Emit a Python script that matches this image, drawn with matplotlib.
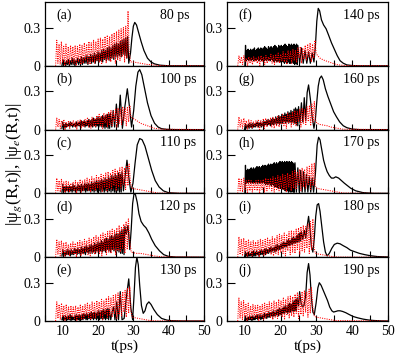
import numpy as np
import matplotlib
matplotlib.use("Agg")
import matplotlib.pyplot as plt
from matplotlib.ticker import MultipleLocator

plt.rcParams["font.family"] = "Liberation Serif"
plt.rcParams["mathtext.fontset"] = "stix"
plt.rcParams["font.size"] = 9

# values in units of 0.01; dense oscillating parts are (lo, hi) pairs over a t range
panel_tags = ["(a)", "(b)", "(c)", "(d)", "(e)", "(f)", "(g)", "(h)", "(i)", "(j)"]
panel_times = ["80 ps", "100 ps", "110 ps", "120 ps", "130 ps",
               "140 ps", "160 ps", "170 ps", "180 ps", "190 ps"]

red_lo = [0, 2, 1, 3, 0, 2, 1, 3, 2, 0, 3, 1, 2, 4, 2, 1, 3, 2, 4, 3, 1, 5, 2, 4, 3, 6, 2, 5, 4, 7, 3, 6]

# (a) 80 ps
a_bk_band = (9.8, 28.4)
a_bk_hi = [5, 3, 4, 5, 4, 6, 5, 4, 6, 5, 7, 6, 7, 8, 7, 9, 8, 10, 9, 11, 10, 12, 13, 12, 14, 15, 14, 16, 17, 18, 17, 19, 20, 21, 22, 23]
a_bk_lo = [0, 1, 0, 1, 0, 1, 1, 0, 2, 1, 2, 1, 2, 2, 1, 3, 2, 3, 2, 4, 3, 4, 3, 5, 4, 5, 4, 6, 5, 7, 6, 8, 7, 9, 8, 6]
a_bk_t = [28.7, 29.2, 29.6, 30.0, 30.4, 30.9, 31.5, 32.2, 33.0, 34.0, 35.0, 36.0, 37.5, 40, 45, 50]
a_bk_y = [2, 10, 22, 31, 34, 32, 26, 19, 12, 6, 3, 1.5, 0.5, 0, 0, 0]
a_rd_band = (8.0, 28.5)
a_rd_hi = [20, 17, 19, 16, 17, 15, 16, 15, 16, 15, 17, 16, 18, 17, 19, 18, 20, 19, 21, 22, 21, 23, 24, 23, 25, 26, 27, 28, 29, 30, 31, 43]
a_rd_t = [28.8, 29.2, 30, 31, 32, 33, 34, 35, 36, 37.5, 40, 50]
a_rd_y = [12, 3, 3, 2.5, 2, 1.5, 1, 1, 0.5, 0.2, 0, 0]

# (b) 100 ps
b_bk_band = (9.8, 23.5)
b_bk_hi = [6, 4, 5, 4, 5, 6, 5, 4, 5, 6, 5, 6, 7, 6, 7, 6, 7, 8, 7, 8, 9, 8, 9, 10, 9, 10, 11, 10, 11, 12, 12, 13]
b_bk_lo = [1, 2, 1, 2, 3, 2, 3, 2, 3, 2, 3, 3, 2, 3, 3, 2, 3, 3, 2, 3, 2, 3, 2, 3, 2, 3, 2, 2, 1, 2, 1, 1]
b_bk_t = [23.9, 24.3, 24.7, 25.2, 25.7, 26.3, 26.9, 27.6, 28.3, 28.9, 29.5, 30.1, 30.7, 31.3, 31.8, 32.4, 33.2, 34.0, 35.0, 36.0, 37.0, 38.0, 39.5, 42, 50]
b_bk_y = [2, 15, 2, 20, 2, 27, 1, 18, 32, 18, 2, 15, 34, 45, 47, 43, 32, 21, 11, 5, 2, 0.7, 0.2, 0, 0]
b_rd_band = (8.0, 29.0)
b_rd_hi = [9, 8, 7, 8, 6, 7, 6, 7, 6, 7, 8, 7, 8, 9, 8, 10, 9, 11, 12, 11, 13, 12, 14, 15, 14, 16, 17, 16, 18, 17, 18, 19]
b_rd_t = [29.3, 29.8, 31, 32, 33, 34, 35, 36, 38, 50]
b_rd_y = [10, 9, 7, 5, 4, 3, 2, 1, 0.3, 0]

# (c) 110 ps
c_bk_band = (9.8, 26.8)
c_bk_hi = [7, 5, 6, 5, 6, 5, 7, 6, 5, 7, 6, 7, 6, 8, 7, 8, 7, 9, 8, 9, 10, 9, 10, 11, 10, 12, 11, 13, 12, 14, 13, 15, 14, 16, 15, 17]
c_bk_lo = [1, 2, 1, 2, 1, 2, 1, 2, 1, 2, 2, 1, 2, 2, 1, 2, 2, 1, 2, 1, 2, 1, 2, 1, 2, 1, 2, 1, 2, 1, 2, 1, 1, 2, 1, 1]
c_bk_t = [27.2, 27.7, 28.2, 28.7, 29.3, 29.9, 30.5, 31.1, 31.8, 32.5, 33.3, 34.2, 35.2, 36.2, 37.3, 38.5, 40, 43, 50]
c_bk_y = [2, 14, 26, 13, 1, 8, 24, 38, 43, 42, 37, 28, 18, 10, 5, 2, 0.5, 0, 0]
c_rd_band = (8.0, 28.8)
c_rd_hi = [12, 10, 11, 9, 10, 9, 8, 9, 10, 9, 11, 10, 11, 12, 11, 13, 12, 14, 13, 15, 14, 16, 17, 16, 18, 19, 18, 20, 21, 20, 22, 23]
c_rd_t = [29.2, 29.6, 30.5, 31.5, 32.5, 33.5, 34.5, 35.5, 37, 50]
c_rd_y = [8, 4, 3.5, 3, 2.5, 2, 1.5, 1, 0.3, 0]

# (d) 120 ps
d_bk_band = (9.8, 27.6)
d_bk_hi = [6, 4, 5, 6, 5, 6, 5, 7, 6, 7, 6, 8, 7, 8, 9, 8, 9, 10, 9, 11, 10, 12, 11, 13, 12, 14, 15, 14, 16, 17, 16, 18, 19, 18, 20, 21, 22, 24]
d_bk_lo = [1, 2, 1, 2, 2, 1, 2, 2, 3, 2, 3, 2, 3, 3, 2, 4, 3, 4, 3, 4, 3, 5, 4, 5, 4, 5, 4, 6, 5, 4, 6, 5, 4, 5, 4, 3, 3, 2]
d_bk_t = [28.0, 28.5, 29.0, 29.4, 29.8, 30.2, 30.6, 31.1, 31.6, 32.2, 32.9, 33.6, 34.4, 35.2, 36.2, 37.4, 38.6, 40.0, 42, 50]
d_bk_y = [18, 25, 6, 22, 42, 50, 49, 43, 34, 28, 25, 23, 19, 14, 9, 5, 2, 0.6, 0.1, 0]
d_rd_band = (8.0, 28.6)
d_rd_hi = [14, 12, 13, 11, 12, 10, 11, 12, 11, 12, 13, 12, 14, 13, 15, 14, 16, 17, 16, 18, 19, 18, 20, 21, 22, 21, 23, 25, 24, 26, 28, 30]
d_rd_t = [29.0, 29.4, 30, 31, 32, 33, 34, 35, 36, 38, 50]
d_rd_y = [12, 4, 3.5, 3, 3, 2.5, 2, 1.5, 1, 0.3, 0]

# (e) 130 ps
e_bk_band = (9.8, 23.2)
e_bk_hi = [4, 3, 4, 3, 4, 5, 4, 3, 4, 5, 4, 5, 4, 5, 6, 5, 6, 5, 6, 7, 6, 7, 6, 7, 8, 7, 8, 9, 8, 9, 10, 9]
e_bk_lo = [1, 0, 1, 0, 1, 1, 0, 1, 1, 0, 1, 1, 0, 1, 1, 2, 1, 1, 2, 1, 2, 1, 2, 1, 2, 1, 2, 1, 2, 1, 2, 1]
e_bk_t = [23.6, 24.0, 24.4, 24.8, 25.3, 25.8, 26.3, 26.8, 27.4, 28.0, 28.7, 29.3, 29.8, 30.2, 30.6, 31.0, 31.4, 31.8, 32.3, 32.8, 33.3, 33.8, 34.4, 35.0, 35.8, 36.8, 38.0, 39.5, 41, 44, 50]
e_bk_y = [1, 7, 11, 1, 15, 1, 23, 1, 2, 18, 33, 10, 1, 20, 42, 50, 44, 28, 12, 6, 8, 13, 15, 13, 9, 5, 2, 0.7, 0.2, 0, 0]
e_rd_band = (8.0, 29.0)
e_rd_hi = [15, 13, 14, 12, 13, 11, 12, 11, 12, 11, 13, 12, 13, 14, 13, 15, 14, 16, 15, 17, 16, 18, 19, 18, 20, 21, 22, 21, 23, 24, 26, 27]
e_rd_t = [29.3, 29.7, 30.5, 31.5, 32.5, 33.5, 34.5, 36, 50]
e_rd_y = [8, 3, 2.5, 2, 1.5, 1, 0.5, 0.1, 0]

# (f) 140 ps
f_bk_band = (10.0, 24.8)
f_bk_hi = [16, 12, 13, 12, 13, 12, 13, 14, 12, 13, 14, 13, 14, 13, 14, 15, 14, 13, 15, 14, 15, 14, 15, 16, 15, 14, 16, 15, 16, 15, 16, 17, 16, 15, 17, 16, 17, 16, 17, 16, 17, 16]
f_bk_lo = [0, 4, 5, 4, 5, 4, 5, 4, 5, 4, 5, 4, 5, 4, 5, 4, 5, 4, 5, 4, 4, 5, 4, 3, 4, 3, 4, 3, 3, 4, 3, 2, 3, 2, 3, 2, 2, 3, 2, 1, 2, 1]
f_bk_t = [25.3, 25.8, 26.3, 26.8, 27.3, 27.8, 28.3, 28.8, 29.3, 29.7, 30.1, 30.5, 30.9, 31.4, 32.0, 32.7, 33.4, 34.2, 35.0, 35.8, 36.6, 37.5, 38.5, 40, 42, 50]
f_bk_y = [2, 14, 2, 12, 2, 11, 2, 10, 3, 15, 35, 45, 43, 36, 32, 29, 24, 18, 13, 8, 4, 2, 0.7, 0.2, 0, 0]
f_rd_band = (8.0, 29.6)
f_rd_hi = [8, 7, 8, 6, 7, 6, 7, 6, 7, 8, 7, 8, 7, 9, 8, 9, 10, 9, 11, 10, 12, 11, 13, 12, 14, 15, 14, 16, 17, 18, 17, 20]
f_rd_t = [29.9, 30.3, 31, 32, 33, 34, 35, 36, 38, 50]
f_rd_y = [10, 8, 6, 4.5, 3.5, 2.5, 1.5, 0.8, 0.2, 0]

# (g) 160 ps
g_bk_band = (9.9, 25.0)
g_bk_hi = [4, 3, 4, 5, 4, 5, 4, 5, 6, 5, 6, 5, 7, 6, 7, 8, 7, 8, 9, 8, 10, 9, 11, 10, 12, 11, 13, 12, 14, 13, 15, 14, 16, 17, 16, 18]
g_bk_lo = [0, 1, 2, 1, 2, 1, 2, 2, 3, 2, 3, 2, 3, 3, 4, 3, 4, 3, 4, 4, 5, 4, 5, 4, 5, 5, 6, 5, 6, 5, 6, 5, 6, 5, 4, 3]
g_bk_t = [25.4, 25.8, 26.2, 26.6, 27.0, 27.4, 27.8, 28.3, 28.8, 29.3, 29.7, 30.1, 30.5, 30.9, 31.4, 31.9, 32.5, 33.2, 34.0, 34.8, 35.6, 36.5, 37.5, 38.5, 40, 42, 50]
g_bk_y = [5, 21, 6, 25, 7, 29, 35, 24, 10, 1, 8, 22, 34, 40, 42, 39, 32, 26, 20, 14, 10, 6, 3, 1.5, 0.4, 0, 0]
g_rd_band = (8.0, 29.4)
g_rd_hi = [10, 8, 9, 7, 8, 7, 6, 7, 8, 7, 8, 9, 8, 9, 10, 9, 11, 10, 12, 11, 13, 12, 14, 15, 14, 16, 17, 16, 18, 19, 20, 22]
g_rd_t = [29.7, 30.1, 31, 32, 33, 34, 35, 36, 37.5, 50]
g_rd_y = [8, 5, 4, 3.5, 3, 2, 1.5, 1, 0.3, 0]

# (h) 170 ps
h_bk_band = (10.0, 24.0)
h_bk_hi = [22, 18, 19, 18, 19, 20, 19, 20, 19, 20, 21, 20, 21, 20, 21, 22, 21, 22, 21, 22, 23, 22, 23, 22, 23, 24, 23, 24, 23, 24, 25, 24, 25, 24, 25, 24, 25, 24, 25, 24, 25, 24, 23, 24]
h_bk_lo = [0, 8, 9, 8, 9, 8, 9, 8, 9, 8, 9, 8, 9, 8, 9, 8, 9, 8, 7, 8, 7, 8, 7, 6, 7, 6, 5, 6, 5, 4, 5, 4, 3, 4, 3, 2, 3, 2, 1, 2, 1, 2, 1, 1]
h_bk_t = [24.4, 24.8, 25.2, 25.6, 26.0, 26.4, 26.8, 27.2, 27.6, 28.0, 28.4, 28.8, 29.2, 29.7, 30.2, 30.6, 31.0, 31.5, 32.0, 32.5, 33.0, 33.6, 34.2, 34.8, 35.4, 36.2, 37.0, 37.8, 38.7, 39.6, 41, 43, 46, 50]
h_bk_y = [1, 20, 1, 18, 1, 17, 1, 15, 1, 13, 1, 12, 1, 15, 38, 44, 42, 34, 26, 21, 17, 14, 12, 12, 13, 12, 10, 8, 6, 4, 2, 0.6, 0, 0]
h_rd_band = (8.0, 29.4)
h_rd_hi = [12, 11, 12, 10, 11, 10, 9, 10, 11, 10, 11, 12, 11, 12, 13, 12, 14, 13, 15, 14, 16, 15, 17, 18, 17, 19, 20, 19, 21, 22, 23, 24]
h_rd_t = [29.7, 30.1, 31, 32, 33, 34, 35, 36, 37.5, 50]
h_rd_y = [6, 4, 3.5, 3, 2.5, 2, 1.5, 1, 0.3, 0]

# (i) 180 ps
i_bk_band = (9.9, 25.8)
i_bk_hi = [4, 3, 4, 3, 4, 5, 4, 5, 4, 5, 6, 5, 6, 7, 6, 7, 8, 7, 8, 9, 10, 9, 10, 11, 12, 11, 13, 14, 13, 15, 16, 15, 17, 18, 19, 20]
i_bk_lo = [0, 1, 0, 1, 1, 0, 1, 1, 2, 1, 2, 2, 3, 2, 3, 3, 4, 4, 5, 4, 5, 6, 6, 7, 7, 8, 8, 9, 9, 10, 10, 11, 11, 12, 12, 13]
i_bk_t = [26.2, 26.6, 27.0, 27.4, 27.8, 28.2, 28.6, 29.0, 29.4, 29.8, 30.2, 30.6, 31.0, 31.5, 32.0, 32.5, 33.0, 33.6, 34.3, 35.0, 35.8, 36.6, 37.5, 38.5, 39.5, 40.5, 42, 43.5, 45, 47, 50]
i_bk_y = [14, 21, 15, 24, 32, 22, 8, 4, 15, 32, 41, 42, 36, 24, 12, 4, 1, 3, 7, 10, 11, 10.5, 9, 7.5, 5.5, 4.5, 3, 2, 1.2, 0.5, 0.2]
i_rd_band = (8.0, 29.0)
i_rd_hi = [16, 14, 15, 13, 14, 12, 13, 12, 13, 14, 13, 14, 15, 14, 16, 15, 17, 18, 17, 19, 18, 20, 21, 20, 22, 23, 24, 25, 24, 26, 28, 30]
i_rd_t = [29.3, 29.7, 30.5, 31.5, 32.5, 33.5, 34.5, 36, 50]
i_rd_y = [8, 3, 2.5, 2, 1.5, 1, 0.5, 0.1, 0]

# (j) 190 ps
j_bk_band = (9.9, 24.6)
j_bk_hi = [3, 2, 3, 4, 3, 4, 3, 4, 5, 4, 5, 4, 5, 6, 5, 6, 7, 6, 7, 8, 7, 8, 9, 10, 9, 10, 11, 12, 11, 13, 14, 13, 15, 16, 17, 18]
j_bk_lo = [0, 1, 0, 1, 1, 0, 1, 1, 2, 1, 2, 1, 2, 2, 3, 2, 3, 3, 4, 3, 4, 4, 5, 4, 5, 5, 6, 6, 7, 6, 7, 7, 8, 7, 8, 8]
j_bk_t = [25.0, 25.3, 25.7, 26.1, 26.5, 27.0, 27.4, 27.8, 28.2, 28.6, 29.0, 29.4, 29.9, 30.4, 30.8, 31.3, 31.9, 32.5, 33.1, 33.7, 34.3, 34.8, 35.4, 36.0, 36.6, 37.3, 38.2, 39.2, 40.3, 41.5, 43, 44.5, 46, 48, 50]
j_bk_y = [12, 23, 14, 11, 12, 20, 38, 45, 36, 18, 7, 5, 14, 26, 30, 28, 24, 20, 16, 11, 8, 7, 7.5, 8, 8, 7.5, 6.5, 5, 3.5, 2.5, 1.5, 0.8, 0.4, 0.1, 0]
j_rd_band = (8.0, 28.6)
j_rd_hi = [18, 15, 16, 13, 14, 12, 13, 12, 13, 12, 13, 14, 13, 15, 14, 16, 15, 17, 16, 18, 17, 19, 20, 19, 21, 22, 21, 23, 24, 23, 25, 26]
j_rd_t = [29.0, 29.4, 30, 31, 32, 33, 34, 35.5, 50]
j_rd_y = [10, 4, 3, 2.5, 2, 1.5, 1, 0.3, 0]

black = [
    (a_bk_band, a_bk_lo, a_bk_hi, a_bk_t, a_bk_y),
    (b_bk_band, b_bk_lo, b_bk_hi, b_bk_t, b_bk_y),
    (c_bk_band, c_bk_lo, c_bk_hi, c_bk_t, c_bk_y),
    (d_bk_band, d_bk_lo, d_bk_hi, d_bk_t, d_bk_y),
    (e_bk_band, e_bk_lo, e_bk_hi, e_bk_t, e_bk_y),
    (f_bk_band, f_bk_lo, f_bk_hi, f_bk_t, f_bk_y),
    (g_bk_band, g_bk_lo, g_bk_hi, g_bk_t, g_bk_y),
    (h_bk_band, h_bk_lo, h_bk_hi, h_bk_t, h_bk_y),
    (i_bk_band, i_bk_lo, i_bk_hi, i_bk_t, i_bk_y),
    (j_bk_band, j_bk_lo, j_bk_hi, j_bk_t, j_bk_y),
]
red = [
    (a_rd_band, red_lo, a_rd_hi, a_rd_t, a_rd_y),
    (b_rd_band, red_lo, b_rd_hi, b_rd_t, b_rd_y),
    (c_rd_band, red_lo, c_rd_hi, c_rd_t, c_rd_y),
    (d_rd_band, red_lo, d_rd_hi, d_rd_t, d_rd_y),
    (e_rd_band, red_lo, e_rd_hi, e_rd_t, e_rd_y),
    (f_rd_band, red_lo, f_rd_hi, f_rd_t, f_rd_y),
    (g_rd_band, red_lo, g_rd_hi, g_rd_t, g_rd_y),
    (h_rd_band, red_lo, h_rd_hi, h_rd_t, h_rd_y),
    (i_rd_band, red_lo, i_rd_hi, i_rd_t, i_rd_y),
    (j_rd_band, red_lo, j_rd_hi, j_rd_t, j_rd_y),
]


def curve(band, lo, hi, t_ex, y_ex):
    yb = [v for pair in zip(lo, hi) for v in pair]
    tb = np.linspace(band[0], band[1], len(yb))
    t = np.concatenate([tb, t_ex])
    y = np.concatenate([yb, y_ex]) / 100.0
    return t, y


fig = plt.figure(figsize=(3.95, 3.58), dpi=100)
lefts = [45 / 395, 227 / 395]
widths = [159 / 395, 161 / 395]
y0 = 1 - 321 / 358
h = (319 / 358) / 5

for k in range(10):
    col, row = divmod(k, 5)
    ax = fig.add_axes([lefts[col], y0 + (4 - row) * h, widths[col], h])
    t, y = curve(*black[k])
    ax.plot(t, y, color="black", lw=0.9, zorder=2)
    t, y = curve(*red[k])
    ax.plot(t, y, color="red", lw=0.75, ls=(0, (1, 1.2)), zorder=3)

    ax.set_xlim(5, 50)
    ax.set_ylim(0, 0.5)
    ax.xaxis.set_major_locator(MultipleLocator(10))
    ax.xaxis.set_minor_locator(MultipleLocator(5))
    ax.set_yticks([0, 0.3])
    ax.set_yticklabels(["0", "0.3"], fontsize=10)
    ax.tick_params(axis="y", direction="in", length=6, width=0.8, pad=3)
    ax.tick_params(axis="x", which="both", direction="in", length=4, width=0.8, labelsize=10, pad=3)
    for s in ax.spines.values():
        s.set_linewidth(0.9)
    if row < 4:
        ax.set_xticklabels([])
    else:
        ax.set_xlabel("t(ps)", fontsize=11, labelpad=1)

    ax.text(0.07, 0.79, panel_tags[k], transform=ax.transAxes, ha="left", va="center", fontsize=10)
    ax.text(0.95 if k != 0 else 0.91, 0.79, panel_times[k], transform=ax.transAxes,
            ha="right", va="center", fontsize=10)

fig.text(0.035, 0.54, r"|ψ$_g$(R,t)|, |ψ$_e$(R,t)|", rotation=90, ha="center", va="center", fontsize=12.5)

fig.savefig("out.png", dpi=100)
